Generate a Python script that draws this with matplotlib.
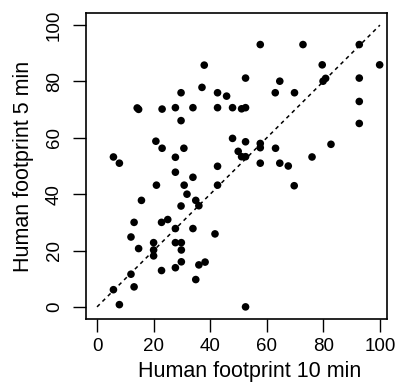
import matplotlib
matplotlib.use("Agg")
import matplotlib.pyplot as plt

plt.rcParams['font.family'] = ['Liberation Sans', 'DejaVu Sans']

# human footprint scores
fp10 = [37.9, 37.1, 29.7, 42.6, 45.8, 14.2, 14.7, 23.0, 27.7, 33.9,
        42.6, 47.9, 51.1, 52.5, 29.7, 47.9, 20.8, 23.0, 30.7, 27.7,
        5.8, 7.9, 49.9, 42.6, 27.7, 33.9, 57.7, 72.8, 92.7, 99.9,
        79.6, 52.5, 64.6, 79.9, 80.8, 92.7, 63.0, 69.8, 92.7, 92.7,
        52.5, 57.7, 57.7, 63.1, 82.7, 51.1, 52.5, 57.7, 64.6, 67.6,
        76.0, 42.6, 21.0, 30.8, 31.8, 15.7, 34.9, 36.0, 29.7, 22.8,
        25.0, 13.1, 27.7, 33.9, 41.7, 12.0, 20.0, 27.7, 29.8, 14.7,
        20.0, 20.0, 29.8, 29.8, 27.7, 22.8, 36.0, 38.2, 12.0, 34.9,
        13.1, 5.8, 7.9, 69.7, 52.5]
fp5 = [85.8, 77.9, 76.0, 76.0, 74.8, 70.6, 70.1, 70.2, 70.7, 70.7,
       70.7, 70.7, 70.3, 70.7, 66.1, 59.8, 58.8, 56.3, 56.3, 53.1,
       53.2, 51.0, 55.2, 49.9, 47.8, 46.0, 93.1, 93.1, 93.1, 85.9,
       85.9, 81.2, 80.1, 80.1, 81.1, 81.2, 76.0, 76.0, 72.9, 65.1,
       58.6, 58.0, 56.5, 56.3, 57.7, 53.3, 53.3, 51.0, 51.0, 50.0,
       53.2, 43.2, 43.2, 43.2, 40.0, 37.8, 37.8, 35.9, 35.8, 30.0,
       31.0, 30.0, 27.8, 27.8, 25.9, 24.8, 22.8, 22.8, 22.8, 20.7,
       20.2, 18.1, 20.2, 16.0, 13.9, 12.9, 14.9, 15.9, 11.6, 9.7,
       7.1, 6.1, 0.8, 43.0, 0.0]
ticks = [0, 20, 40, 60, 80, 100]

fig = plt.figure(figsize=(3.97, 3.85), dpi=100)
ax = fig.add_axes([86/397, 1-319/385, (387-86)/397, (319-13)/385])

ax.scatter(fp10, fp5, s=30, color='black', edgecolors='none', zorder=3)
ax.plot([0, 100], [0, 100], color='black', lw=1.1, dashes=(2.5, 2.5))

ax.set_xlim(-3.9, 102.5)
ax.set_ylim(-4.3, 104.3)
ax.set_xticks(ticks)
ax.set_yticks(ticks)
ax.set_yticklabels([str(t) for t in ticks], rotation=90, va='center')
ax.tick_params(direction='out', length=9.5, width=1, labelsize=13.5, colors='black')
ax.tick_params(axis='x', pad=4)
ax.tick_params(axis='y', pad=7)
for s in ax.spines.values():
    s.set_linewidth(1.2)

ax.set_xlabel('Human footprint 10 min', fontsize=15.5, va='center')
ax.set_ylabel('Human footprint 5 min', fontsize=15.5, va='center')
ax.xaxis.set_label_coords(0.545, -0.173)
ax.yaxis.set_label_coords(-0.206, 0.5)

fig.savefig('out.png', dpi=100)
